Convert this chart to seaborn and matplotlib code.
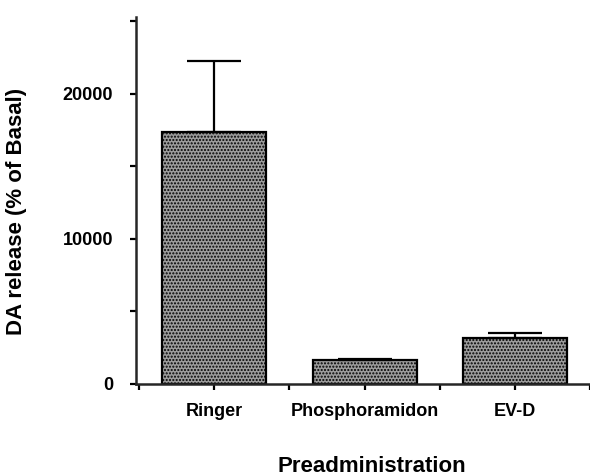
import pandas as pd
import matplotlib
matplotlib.use('Agg')
import matplotlib.pyplot as plt
import seaborn as sns

# Values
groups = ['Ringer', 'Phosphoramidon', 'EV-D']
release = [17400, 1650, 3170]
sem = [4900, 60, 350]

data = pd.DataFrame({'group': groups, 'release': release})

sns.set_style('ticks')
plt.rcParams['font.family'] = ['Liberation Sans', 'DejaVu Sans']
plt.rcParams['font.weight'] = 'bold'
plt.rcParams['text.color'] = 'black'
plt.rcParams['xtick.color'] = 'black'
plt.rcParams['ytick.color'] = 'black'
plt.rcParams['axes.labelcolor'] = 'black'
plt.rcParams['hatch.linewidth'] = 1.0
plt.rcParams['hatch.color'] = 'white'

fig = plt.figure(figsize=(5.9, 4.76), dpi=100)
ax = fig.add_axes([0.2305, 0.1933, 0.77, 0.771])

sns.barplot(x='group', y='release', data=data, color='#999999', width=0.69,
            errorbar=None, edgecolor='black', linewidth=1.6, ax=ax)
for p in ax.patches:
    p.set_hatch('.....')
    p.set_facecolor('#9c9c9c')

ax.errorbar(range(len(groups)), release, yerr=[[0] * len(sem), sem], fmt='none',
            ecolor='black', elinewidth=1.6, capsize=19.5, capthick=1.6)

ax.set_xlim(-0.52, 2.42)
ax.set_ylim(0, 25300)
ax.set_yticks([0, 10000, 20000])
ax.set_yticks([5000, 15000, 25000], minor=True)
ax.set_xticks([-0.5, 0.5, 1.5, 2.5], minor=True)
ax.tick_params(axis='both', which='major', length=4.5, width=1.6, labelsize=13)
ax.tick_params(axis='both', which='minor', length=4, width=1.6)
for lab in ax.get_xticklabels() + ax.get_yticklabels():
    lab.set_fontweight('bold')
ax.tick_params(axis='x', pad=9)
ax.tick_params(axis='y', pad=12)

sns.despine(ax=ax)
ax.spines['left'].set_linewidth(1.8)
ax.spines['bottom'].set_linewidth(1.8)

ax.set_xlabel('Preadministration', fontsize=16, fontweight='bold')
ax.set_ylabel('DA release (% of Basal)', fontsize=16, fontweight='bold')
ax.xaxis.set_label_coords(0.52, -0.195)
ax.yaxis.set_label_coords(-0.24, 0.469)

fig.savefig('out.png', dpi=100)
